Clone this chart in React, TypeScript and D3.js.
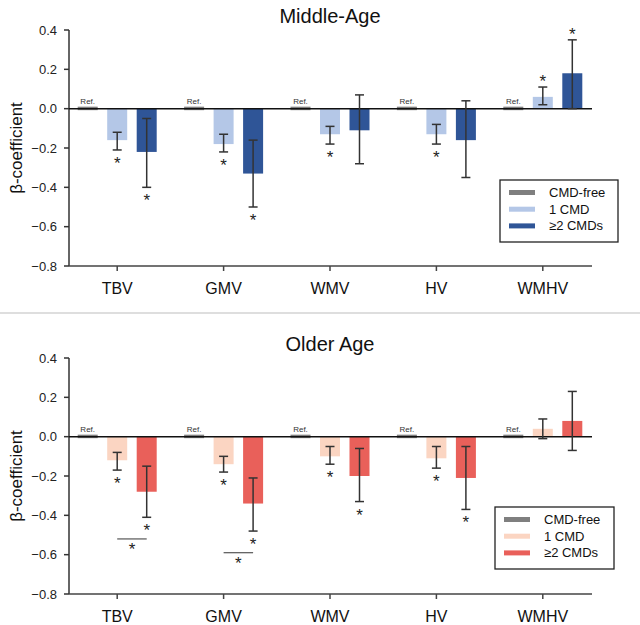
import React from 'react'
import * as d3 from 'd3'

// brain volume outcomes
const categories = ['TBV', 'GMV', 'WMV', 'HV', 'WMHV']
const groups = ['CMD-free', '1 CMD', '≥2 CMDs']
const yTicks = [0.4, 0.2, 0.0, -0.2, -0.4, -0.6, -0.8]

// Middle-age estimates
const midOne = [-0.16, -0.18, -0.13, -0.13, 0.06]
const midOneLo = [-0.21, -0.22, -0.18, -0.18, 0.02]
const midOneHi = [-0.12, -0.13, -0.09, -0.08, 0.11]
const midOneSig = [true, true, true, true, true]
const midTwo = [-0.22, -0.33, -0.11, -0.16, 0.18]
const midTwoLo = [-0.4, -0.5, -0.28, -0.35, 0.0]
const midTwoHi = [-0.05, -0.16, 0.07, 0.04, 0.35]
const midTwoSig = [true, true, false, false, true]

// Older-age estimates
const oldOne = [-0.12, -0.14, -0.1, -0.11, 0.04]
const oldOneLo = [-0.17, -0.18, -0.14, -0.16, -0.01]
const oldOneHi = [-0.08, -0.1, -0.05, -0.05, 0.09]
const oldOneSig = [true, true, true, true, false]
const oldTwo = [-0.28, -0.34, -0.2, -0.21, 0.08]
const oldTwoLo = [-0.41, -0.48, -0.33, -0.37, -0.07]
const oldTwoHi = [-0.15, -0.21, -0.06, -0.05, 0.23]
const oldTwoSig = [true, true, true, true, false]
// 1 CMD vs >=2 CMDs comparisons (category, level of bracket)
const oldBrackets = [
  { cat: 'TBV', level: -0.52 },
  { cat: 'GMV', level: -0.59 },
]

const FONT = '"Liberation Sans", Arial, sans-serif'
const AX_L = 69
const AX_R = 592
const PANEL_H = 236

const xBand = d3.scaleBand().domain(categories).range([64, 596])
const xGroup = d3.scalePoint().domain(groups).range([-29.5, 29.5])
const barW = 20
const cx = (c: string) => (xBand(c) as number) + xBand.bandwidth() / 2

type PanelProps = {
  title: string
  top: number
  one: number[]; oneLo: number[]; oneHi: number[]; oneSig: boolean[]
  two: number[]; twoLo: number[]; twoHi: number[]; twoSig: boolean[]
  colors: string[]
  brackets: { cat: string; level: number }[]
  legend: { x: number; y: number; w: number; h: number }
}

const Star = ({ x, y }: { x: number; y: number }) => (
  // y is where the glyph centre should sit
  <text x={x} y={y + 9.5} textAnchor="middle" fontSize={17} fontFamily={FONT} fill="#222" stroke="none">*</text>
)

const Panel = (p: PanelProps) => {
  const y = d3.scaleLinear().domain([-0.8, 0.4]).range([p.top + PANEL_H, p.top])
  const y0 = y(0)
  const series = [
    { key: groups[1], v: p.one, lo: p.oneLo, hi: p.oneHi, sig: p.oneSig, color: p.colors[1] },
    { key: groups[2], v: p.two, lo: p.twoLo, hi: p.twoHi, sig: p.twoSig, color: p.colors[2] },
  ]
  const midY = (y(0.4) + y(-0.8)) / 2
  return (
    <g fontFamily={FONT}>
      <text x={330} y={p.top - 7} textAnchor="middle" fontSize={20} fill="#111">{p.title}</text>
      <text transform={`translate(22,${midY}) rotate(-90)`} textAnchor="middle" fontSize={17} fill="#111">β-coefficient</text>

      {/* y axis */}
      <line x1={AX_L} x2={AX_L} y1={y(0.4)} y2={y(-0.8)} stroke="#333" strokeWidth={1.5} />
      {yTicks.map((t) => (
        <g key={t}>
          <line x1={AX_L - 5} x2={AX_L} y1={y(t)} y2={y(t)} stroke="#333" strokeWidth={1.5} />
          <text x={57} y={y(t) + 4.5} textAnchor="end" fontSize={13} fill="#222">{d3.format('.1f')(t)}</text>
        </g>
      ))}

      {/* x axis at bottom */}
      <line x1={AX_L} x2={AX_R} y1={y(-0.8)} y2={y(-0.8)} stroke="#444" strokeWidth={1.5} />
      {categories.map((c) => (
        <g key={c}>
          <line x1={cx(c)} x2={cx(c)} y1={y(-0.8)} y2={y(-0.8) + 5} stroke="#444" strokeWidth={1.5} />
          <text x={cx(c)} y={y(-0.8) + 28} textAnchor="middle" fontSize={16} fill="#111">{c}</text>
        </g>
      ))}

      {/* reference group */}
      {categories.map((c) => {
        const bx = cx(c) + (xGroup(groups[0]) as number)
        return (
          <g key={'ref' + c}>
            <rect x={bx - barW / 2} y={y0 - 2} width={barW} height={3.5} fill={p.colors[0]} />
            <text x={bx} y={y0 - 5} textAnchor="middle" fontSize={8} fill="#333">Ref.</text>
          </g>
        )
      })}

      {/* bars */}
      {series.map((s) =>
        categories.map((c, i) => {
          const bx = cx(c) + (xGroup(s.key) as number)
          const yv = y(s.v[i])
          return (
            <rect key={s.key + c} x={bx - barW / 2} y={Math.min(yv, y0)} width={barW}
              height={Math.abs(yv - y0)} fill={s.color} />
          )
        })
      )}

      {/* zero line */}
      <line x1={AX_L} x2={AX_R} y1={y0} y2={y0} stroke="#111" strokeWidth={1.5} />

      {/* error bars + stars */}
      {series.map((s) =>
        categories.map((c, i) => {
          const bx = cx(c) + (xGroup(s.key) as number)
          const lo = y(s.lo[i])
          const hi = y(s.hi[i])
          return (
            <g key={'e' + s.key + c}>
              <g stroke="#333" strokeWidth={1.5}>
                <line x1={bx} x2={bx} y1={lo} y2={hi} />
                <line x1={bx - 4.5} x2={bx + 4.5} y1={lo} y2={lo} />
                <line x1={bx - 4.5} x2={bx + 4.5} y1={hi} y2={hi} />
              </g>
              {s.sig[i] && (s.v[i] < 0 ? <Star x={bx} y={lo + 9.5} /> : <Star x={bx} y={hi - 9.5} />)}
            </g>
          )
        })
      )}

      {/* comparison brackets */}
      {p.brackets.map((b) => {
        const x1 = cx(b.cat) + (xGroup(groups[1]) as number)
        const x2 = cx(b.cat) + (xGroup(groups[2]) as number)
        return (
          <g key={'b' + b.cat}>
            <line x1={x1} x2={x2} y1={y(b.level)} y2={y(b.level)} stroke="#555" strokeWidth={1.2} />
            <Star x={(x1 + x2) / 2} y={y(b.level) + 6.5} />
          </g>
        )
      })}

      {/* legend */}
      <rect x={p.legend.x} y={p.legend.y} width={p.legend.w} height={p.legend.h} fill="#fff" stroke="#222" strokeWidth={1.3} />
      {groups.map((g, i) => {
        const ly = p.legend.y + 12.5 + i * 16.7
        return (
          <g key={'lg' + g}>
            <rect x={p.legend.x + 9} y={ly - 2.5} width={26} height={5} fill={p.colors[i]} />
            <text x={p.legend.x + 49} y={ly + 4.5} fontSize={13} fill="#111">{g}</text>
          </g>
        )
      })}
    </g>
  )
}

const App = () => {
  return (
    <svg width={640} height={625} style={{ position: 'absolute', left: 0, top: 0, background: '#fff' }}>
      <rect width={640} height={625} fill="#fff" />
      <Panel title="Middle-Age" top={30}
        one={midOne} oneLo={midOneLo} oneHi={midOneHi} oneSig={midOneSig}
        two={midTwo} twoLo={midTwoLo} twoHi={midTwoHi} twoSig={midTwoSig}
        colors={['#7f7f7f', '#b4c7e7', '#2f5597']} brackets={[]}
        legend={{ x: 500, y: 180, w: 118, h: 62 }} />
      <line x1={0} x2={640} y1={313} y2={313} stroke="#bdbdbd" strokeWidth={1} />
      <Panel title="Older Age" top={358}
        one={oldOne} oneLo={oldOneLo} oneHi={oldOneHi} oneSig={oldOneSig}
        two={oldTwo} twoLo={oldTwoLo} twoHi={oldTwoHi} twoSig={oldTwoSig}
        colors={['#7f7f7f', '#fbd5c2', '#e9605a']} brackets={oldBrackets}
        legend={{ x: 495, y: 507, w: 119, h: 62 }} />
    </svg>
  )
}

export default App
